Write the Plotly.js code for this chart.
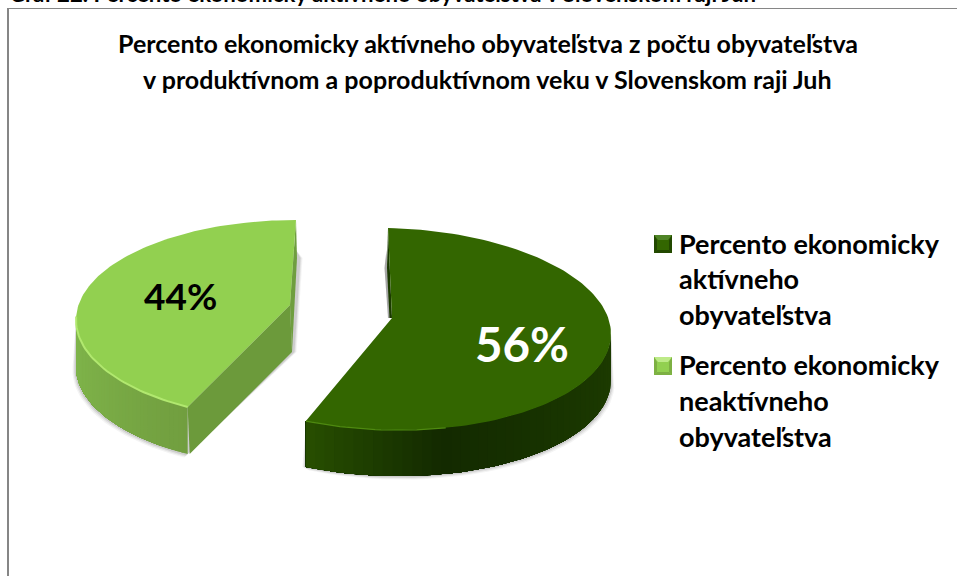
<!DOCTYPE html>
<html><head><meta charset="utf-8">
<script src="https://cdn.plot.ly/plotly-3.0.1.min.js"></script>
<style>html,body{margin:0;padding:0;background:#fff;overflow:hidden}</style>
</head><body><div id="chart" style="width:957px;height:576px"></div>
<script>
// ---- data ----
const categories = ["Percento ekonomicky aktívneho obyvateľstva", "Percento ekonomicky neaktívneho obyvateľstva"];
const values = [56, 44];
const legendLines = [["Percento ekonomicky", "aktívneho", "obyvateľstva"], ["Percento ekonomicky", "neaktívneho", "obyvateľstva"]];
const titleLine1 = "Percento ekonomicky aktívneho obyvateľstva z počtu obyvateľstva";
const titleLine2 = "v produktívnom a poproduktívnom veku v Slovenskom raji Juh";
const caption = "Graf 22. Percento ekonomicky aktívneho obyvateľstva v Slovenskom raji Juh";

// ---- 3D pie projection (value -> angle -> ellipse) ----
const FONT = "Lato, Carlito, Calibri, sans-serif";
const total = values.reduce((a, b) => a + b, 0);
const split = values[0] / total * 360;
const slices = [
  {cx: 388, cy: 329, rx: 223, ry: 101, tilt: 5, apex: [392, 318], depth: 46, from: 0, to: split,
   warp: a => a, top: "#336600", rim: "#4f8a10", cut: "#244a00",
   sideStops: [[90, [29, 60, 0]], [130, [24, 52, 0]], [165, [19, 42, 0]], [201.6, [40, 80, 0]]]},
  {cx: 296, cy: 320, rx: 220, ry: 100, tilt: 0, apex: [290, 305], depth: 47, from: split, to: 360,
   warp: a => 360 - (360 - a) * (150.5 / (360 - split)), top: "#92d050", rim: "#b1e86f", cut: "#6c9a3b",
   sideStops: [[209, [113, 158, 63]], [240, [122, 172, 70]], [270, [128, 182, 75]]]}
];
function pt(s, deg) {
  const r = deg * Math.PI / 180;
  return [s.cx + s.rx * Math.sin(r), s.cy - s.ry * Math.cos(r) + s.tilt * Math.sin(r)];
}
function arc(s, a0, a1, n) {
  const out = [];
  for (let i = 0; i <= n; i++) out.push(pt(s, a0 + (a1 - a0) * i / n));
  return out;
}
function shade(stops, a) {
  for (let i = 0; i < stops.length - 1; i++) {
    if (a <= stops[i + 1][0]) {
      const t = Math.max(0, (a - stops[i][0]) / (stops[i + 1][0] - stops[i][0]));
      const c = stops[i][1].map((v, k) => Math.round(v + (stops[i + 1][1][k] - v) * t));
      return `rgb(${c.join(",")})`;
    }
  }
  return `rgb(${stops[stops.length - 1][1].join(",")})`;
}
function poly(points, color, extra) {
  return Object.assign({
    type: "scatter", mode: "lines", x: points.map(p => p[0]), y: points.map(p => p[1]),
    fill: "toself", fillcolor: color, line: {color: color, width: 0},
    hoverinfo: "skip", showlegend: false
  }, extra || {});
}
function line(points, color, width) {
  return {type: "scatter", mode: "lines", x: points.map(p => p[0]), y: points.map(p => p[1]),
    line: {color: color, width: width}, hoverinfo: "skip", showlegend: false};
}

const traces = [];
const dark = slices[0], light = slices[1];
const lightTo = light.warp(light.from), lightEnd = 272;

// soft shadows behind the extruded slices
[[3.5, .06], [2.5, .09], [1.5, .14]].forEach(([g, o]) => {
  const col = `rgba(70,70,70,${o})`;
  const la = arc(light, lightTo, 272, 30).map(p => [p[0] - g, p[1] + light.depth + g]);
  traces.push(poly([[light.apex[0] + 3 + g, light.apex[1] + light.depth], [299 + g, 258], [296, 250],
    pt(light, 272), ...la.slice().reverse()], col));
  const da = arc(dark, 90, dark.to, 40).map(p => [p[0] + g, p[1] + dark.depth + g]);
  traces.push(poly([pt(dark, 90), ...da, [pt(dark, dark.to)[0] - g, pt(dark, dark.to)[1] + dark.depth], pt(dark, dark.to)], col));
});
traces.push(poly([[386.5, 250], [384.5, 268], [388, 318], [391, 318]], "rgba(60,60,60,.45)"));

// outer side walls: each band runs from its angle to the wall's end, painted over the last
slices.forEach(s => {
  const a0 = s === dark ? 90 : lightTo, a1 = s === dark ? s.to : lightEnd, n = 44;
  for (let i = 0; i < n; i++) {
    const p = a0 + (a1 - a0) * i / n;
    const up = arc(s, p, a1, Math.max(2, n - i));
    const lo = up.map(q => [q[0], q[1] + s.depth]).reverse();
    traces.push(poly([...up, ...lo, up[0]], shade(s.sideStops, p)));
  }
});

// cut faces
const lt = pt(light, lightTo);
traces.push(poly([light.apex, lt, [lt[0] + 2, lt[1] + light.depth], [light.apex[0] + 2, light.apex[1] + 47], light.apex], light.cut));
traces.push(poly([[296, 220], [297, 258], [292, 352], light.apex], "#6f9e3f"));
traces.push(poly([[388, 228], [387, 268], [389.5, 318], dark.apex], "#1b3a00"));

// top surfaces
slices.forEach(s => {
  const pts = [s.apex, ...arc(s, s.warp(s.from), s.warp(s.to), 120), s.apex];
  traces.push(poly(pts, s.top, {name: categories[slices.indexOf(s)]}));
});

// bevel rims
traces.push(line(arc(light, lightTo, 272, 40), light.rim, 2));
traces.push(line(arc(dark, 165, dark.to, 24), dark.rim, 1.2));

// ---- text ----
const anns = [];
function label(txt, x, y, size, color, anchor) {
  anns.push({text: txt, x: x, y: y, xref: "x", yref: "y", xanchor: anchor || "center", yanchor: "middle",
    showarrow: false, font: {family: FONT, size: size, color: color, weight: 700}});
}
anns.push({text: caption, x: 7 / 957, y: 1 + 6.5 / 576, xref: "paper", yref: "paper", xanchor: "left", yanchor: "middle",
  showarrow: false, font: {family: FONT, size: 22.2, color: "#000", weight: 700}});
label(titleLine2, 487.5, 78.5, 25, "#000");
label(values[0] + "%", 522, 343, 47.5, "#ffffff");
label(values[1] + "%", 180, 295, 37, "#000000");
const legendY = [[243, 278, 314], [364, 400, 436]];
legendLines.forEach((ls, i) => ls.forEach((t, j) => label(t, 677, legendY[i][j], 27, "#000", "left")));

// ---- frame and legend keys ----
const shapes = [
  {type: "line", xref: "x", yref: "y", x0: 8, x1: 8, y0: 8, y1: 576, line: {color: "#868686", width: 2}, layer: "below"},
  {type: "line", xref: "x", yref: "y", x0: 7, x1: 957, y0: 8.5, y1: 8.5, line: {color: "#868686", width: 1}, layer: "below"}
];
function key(x, y, s, c, t, b) {
  const S = (d, col) => shapes.push({type: "path", xref: "x", yref: "y", path: d, fillcolor: col, line: {width: 0}});
  S(`M${x} ${y}H${x + s}V${y + s}H${x}Z`, c);
  S(`M${x} ${y}H${x + s}L${x + s - 4} ${y + 5}H${x + 4}Z`, t);
  S(`M${x} ${y + s}H${x + s}L${x + s - 3} ${y + s - 3}H${x + 3}Z`, b);
  S(`M${x} ${y}V${y + s}L${x + 3} ${y + s - 3}V${y + 5}Z`, b);
  S(`M${x + s} ${y}V${y + s}L${x + s - 3} ${y + s - 3}V${y + 5}Z`, b);
}
key(654, 235, 18, "#336600", "#4f8426", "#224800");
key(654, 357, 18, "#92d050", "#bdea88", "#7db043");

const layout = {
  width: 957, height: 576, margin: {l: 0, r: 0, t: 0, b: 0, pad: 0},
  paper_bgcolor: "#ffffff", plot_bgcolor: "#ffffff", showlegend: false,
  title: {text: titleLine1,
    font: {family: FONT, size: 25, color: "#000", weight: 700},
    x: 488 / 957, xanchor: "center", xref: "paper", y: 1 - 44 / 576, yanchor: "middle", yref: "paper"},
  xaxis: {range: [0, 957], visible: false, fixedrange: true},
  yaxis: {range: [576, 0], visible: false, fixedrange: true},
  annotations: anns, shapes: shapes
};
Plotly.newPlot("chart", traces, layout, {staticPlot: true, displayModeBar: false});
</script></body></html>
